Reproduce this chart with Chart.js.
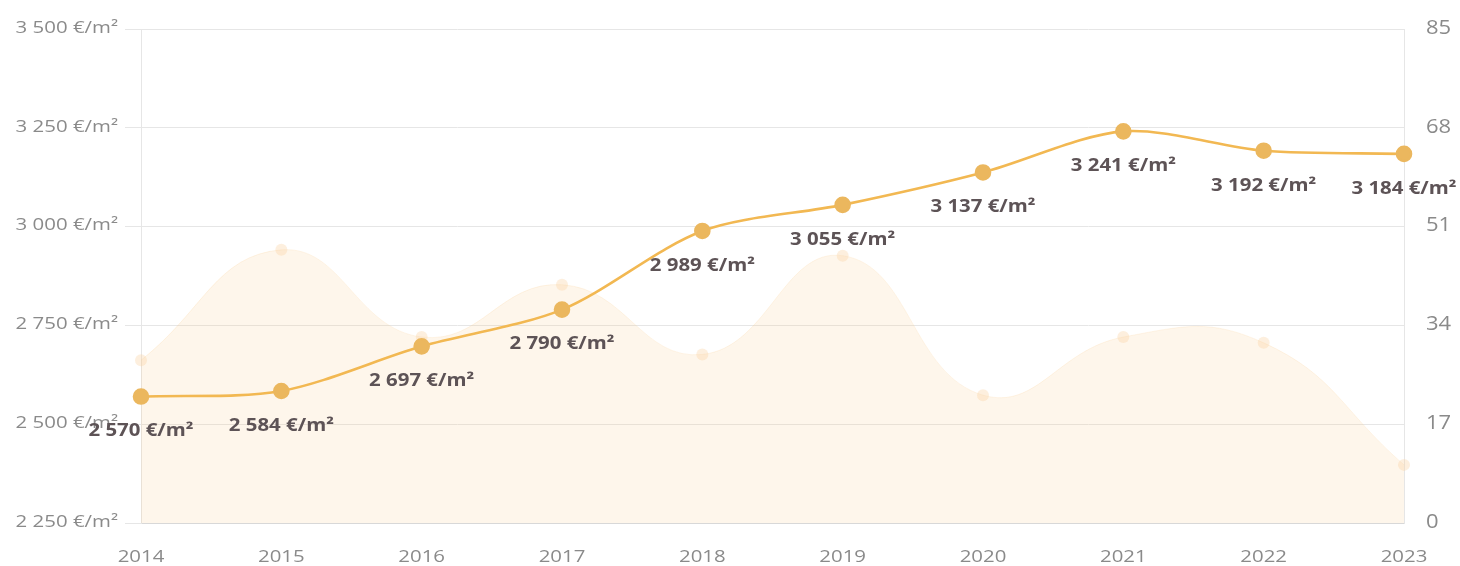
<!DOCTYPE html>
<html>
<head>
<meta charset="utf-8">
<script src="https://cdn.jsdelivr.net/npm/chart.js@4.4.1/dist/chart.umd.min.js"></script>
<style>
  html, body { margin: 0; padding: 0; background: #fff; }
  #wrap { width: 1460px; height: 566px; position: relative; }
</style>
</head>
<body>
<div id="wrap"><canvas id="priceChart"></canvas></div>
<script>
// data
const years       = ["2014", "2015", "2016", "2017", "2018", "2019", "2020", "2021", "2022", "2023"];
const pricePerM2  = [2570, 2584, 2697, 2790, 2989, 3055, 3137, 3241, 3192, 3184];
const volume      = [28, 47, 32, 41, 29, 46, 22, 32, 31, 10];
const priceTicks  = [2250, 2500, 2750, 3000, 3250, 3500];
const volumeTicks = [0, 17, 34, 51, 68, 85];

const COLORS = {
  line:      "#F2B852",
  point:     "#EBB75E",
  areaFill:  "rgba(248,200,130,0.16)",
  areaEdge:  "rgba(248,205,145,0.2)",
  areaPoint: "rgba(248,210,160,0.35)",
  grid:      "#e6e6e6",
  axisLine:  "#d8d8d8",
  tick:      "#8a8a8a",
  label:     "#5d5356",
};

const FONT = "'Open Sans', sans-serif";
const STRETCH = 1.2; // reference text is a bit wider than Open Sans

// "3 500 €/m²" style formatting
function fmtEuro(v) {
  return String(Math.round(v)).replace(/\B(?=(\d{3})+(?!\d))/g, " ") + " €/m²";
}

// horizontally stretched text, anchored like textAlign
function wideText(ctx, text, x, y, align, sx) {
  ctx.save();
  ctx.translate(x, y);
  ctx.scale(sx, 1);
  ctx.textAlign = align;
  ctx.textBaseline = "middle";
  ctx.fillText(text, 0, 0);
  ctx.restore();
}

// axis tick texts + value labels under each price point
const textLayer = {
  id: "textLayer",
  afterDraw(chart) {
    const ctx = chart.ctx;
    const { x, y, y1 } = chart.scales;

    ctx.save();
    ctx.fillStyle = COLORS.tick;

    ctx.font = "17px " + FONT;
    priceTicks.forEach((v) => {
      wideText(ctx, fmtEuro(v), y.right - 23, y.getPixelForValue(v) - 1, "right", STRETCH);
    });
    years.forEach((lab, i) => {
      wideText(ctx, lab, x.getPixelForValue(i), 557, "center", STRETCH);
    });

    ctx.font = "20px " + FONT;
    volumeTicks.forEach((v) => {
      wideText(ctx, String(v), y1.left + 22, y1.getPixelForValue(v) - 1, "left", 1.1);
    });

    ctx.fillStyle = COLORS.label;
    ctx.font = "bold 17px " + FONT;
    chart.getDatasetMeta(0).data.forEach((pt, i) => {
      wideText(ctx, fmtEuro(pricePerM2[i]), pt.x, pt.y + 35, "center", STRETCH);
    });
    ctx.restore();
  },
};

Chart.defaults.font.family = FONT;
Chart.defaults.color = COLORS.tick;

new Chart(document.getElementById("priceChart"), {
  type: "line",
  data: {
    labels: years,
    datasets: [
      {
        label: "Prix",
        data: pricePerM2,
        yAxisID: "y",
        borderColor: COLORS.line,
        borderWidth: 2.6,
        backgroundColor: COLORS.point,
        pointBackgroundColor: COLORS.point,
        pointBorderColor: COLORS.point,
        pointRadius: 7,
        fill: false,
        tension: 0.3,
        order: 0,
      },
      {
        label: "Volume",
        data: volume,
        yAxisID: "y1",
        borderColor: COLORS.areaEdge,
        borderWidth: 1,
        backgroundColor: COLORS.areaFill,
        pointBackgroundColor: COLORS.areaPoint,
        pointBorderColor: "rgba(0,0,0,0)",
        pointRadius: 6,
        fill: "origin",
        tension: 0.45,
        order: 1,
      },
    ],
  },
  options: {
    responsive: true,
    maintainAspectRatio: false,
    animation: false,
    layout: { padding: { top: 29, right: 0, bottom: 0, left: 0 } },
    plugins: {
      legend: { display: false },
      tooltip: { enabled: false },
    },
    scales: {
      x: {
        offset: false,
        grid: { display: false },
        border: { color: COLORS.axisLine, width: 1 },
        ticks: { display: false },
        afterFit: (s) => { s.height = 43; },
      },
      y: {
        position: "left",
        min: 2250,
        max: 3500,
        afterBuildTicks: (s) => { s.ticks = priceTicks.map((v) => ({ value: v })); },
        grid: { color: COLORS.grid, tickLength: 16 },
        border: { color: COLORS.grid },
        ticks: { display: false },
        afterFit: (s) => { s.width = 141; },
      },
      y1: {
        position: "right",
        min: 0,
        max: 85,
        afterBuildTicks: (s) => { s.ticks = volumeTicks.map((v) => ({ value: v })); },
        grid: { drawOnChartArea: false, tickLength: 0 },
        border: { color: COLORS.grid },
        ticks: { display: false },
        afterFit: (s) => { s.width = 56; },
      },
    },
  },
  plugins: [textLayer],
});
</script>
</body>
</html>
